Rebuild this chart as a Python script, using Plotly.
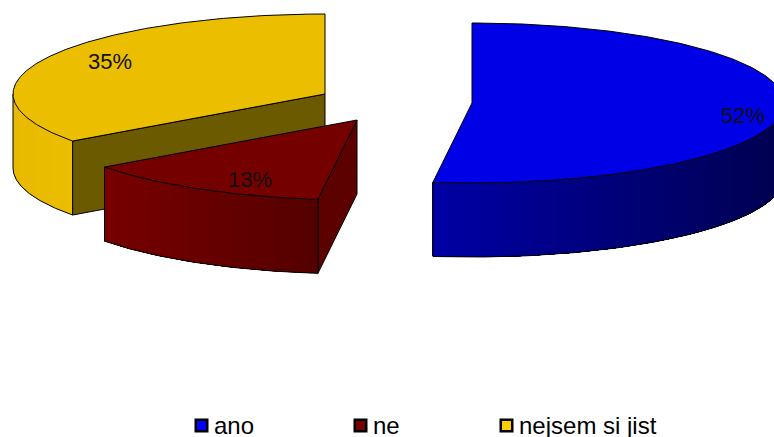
import numpy as np
import plotly.graph_objects as go

# Survey answers and their shares in percent
categories = ["ano", "ne", "nejsem si jist"]
shares = [52, 13, 35]

# Styling per slice: top face, cut face, rim colour at the left and right end
top_colors = ["#0000E6", "#750000", "#ECBE00"]
swatch_colors = ["#0000FF", "#750000", "#FFCC00"]
cut_colors = ["#000080", "#5C0000", "#6B5A00"]
rim_left = [(0, 0, 165), (120, 0, 0), (232, 186, 0)]
rim_right = [(0, 0, 80), (84, 0, 0), (236, 190, 0)]

# Exploded slice centres in pixels
centres = [(472, 103), (357, 120), (325, 94)]
RX, RY, DEPTH = 312, 80, 74
W, H = 774, 437
FONT = "Liberation Sans, Arial, sans-serif"


def rim_point(cx, cy, deg, drop=0.0):
    a = np.radians(deg)
    return cx + RX * np.sin(a), cy - RY * np.cos(a) + drop


def add_poly(fig, xs, ys, fill, line="black", width=1.0):
    fig.add_trace(go.Scatter(
        x=list(xs), y=list(ys), mode="lines", fill="toself", fillcolor=fill,
        line=dict(color=line, width=width), hoverinfo="skip", showlegend=False,
    ))


def add_line(fig, xs, ys):
    fig.add_trace(go.Scatter(x=xs, y=ys, mode="lines", line=dict(color="black", width=1.0),
                             hoverinfo="skip", showlegend=False))


def draw_slice(fig, i, start, end):
    cx, cy = centres[i]

    # Cut face that turns toward the viewer
    if i in (1, 2):
        ex, ey = rim_point(cx, cy, start)
        add_poly(fig, [cx, ex, ex, cx, cx], [cy, ey, ey + DEPTH, cy + DEPTH, cy], cut_colors[i])

    # Front rim: each band runs on to the far end so that the next one paints over it
    lo, hi = max(start, 90), min(end, 270)
    if hi > lo:
        edges = np.linspace(lo, hi, max(8, int(hi - lo) + 1))
        x_min, x_max = rim_point(cx, cy, hi)[0], rim_point(cx, cy, lo)[0]
        for a0, a1 in zip(edges[:-1], edges[1:]):
            arc = np.linspace(a0, hi, 60)
            tx, ty = rim_point(cx, cy, arc)
            bx, by = rim_point(cx, cy, arc[::-1], DEPTH)
            mid = 0.5 * (rim_point(cx, cy, a0)[0] + rim_point(cx, cy, a1)[0])
            t = (mid - x_min) / max(x_max - x_min, 1)
            rgb = [round(l + (r - l) * t) for l, r in zip(rim_left[i], rim_right[i])]
            color = f"rgb({rgb[0]},{rgb[1]},{rgb[2]})"
            add_poly(fig, np.r_[tx, bx, tx[0]], np.r_[ty, by, ty[0]], color, line=color, width=0)
        # Rim outline: bottom curve and the vertical end edges
        angles = np.linspace(lo, hi, 120)
        add_line(fig, *rim_point(cx, cy, angles, DEPTH))
        for edge in (lo, hi):
            px, py = rim_point(cx, cy, edge)
            add_line(fig, [px, px], [py, py + DEPTH])

    # Top face
    angles = np.linspace(start, end, 240)
    ax, ay = rim_point(cx, cy, angles)
    add_poly(fig, np.r_[cx, ax, cx], np.r_[cy, ay, cy], top_colors[i])


fig = go.Figure()
bounds = np.cumsum([0] + shares) * 3.6
spans = [(bounds[i], bounds[i + 1]) for i in range(3)]

# Back to front: yellow, blue, then the red slice that overlaps the yellow one
for i in (2, 0, 1):
    draw_slice(fig, i, *spans[i])

# Percent labels
label_xy = [(743, 115), (250, 179), (110, 61)]
annotations = [
    dict(x=x, y=y, text=f"{v}%", showarrow=False, xanchor="center", yanchor="middle",
         font=dict(family=FONT, size=22, color="#111111"))
    for v, (x, y) in zip(shares, label_xy)
]

# Legend row: swatches with a heavy border and left-aligned names
swatch_x = [201.5, 360.5, 506.5]
text_x = [212.5, 371.5, 518]
fig.add_trace(go.Scatter(
    x=swatch_x, y=[425.5] * 3, mode="markers", hoverinfo="skip", showlegend=False,
    marker=dict(symbol="square", size=11.5, color=swatch_colors,
                line=dict(color="black", width=2.5)),
))
annotations += [
    dict(x=x, y=425, text=c, showarrow=False, xanchor="left", yanchor="middle", borderpad=0,
         font=dict(family=FONT, size=24, color="black"))
    for c, x in zip(categories, text_x)
]

fig.update_layout(
    width=W, height=H, margin=dict(l=0, r=0, t=0, b=0),
    paper_bgcolor="white", plot_bgcolor="white", showlegend=False,
    xaxis=dict(range=[0, W], visible=False, fixedrange=True),
    yaxis=dict(range=[H, 0], visible=False, fixedrange=True),
    annotations=annotations,
)
fig.write_html("out.html", config=dict(displayModeBar=False))
